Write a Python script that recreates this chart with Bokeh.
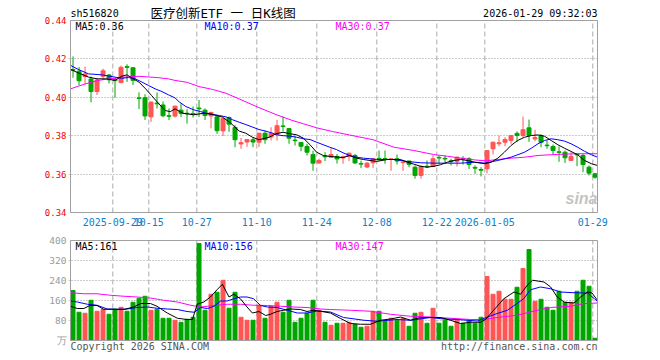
import pandas as pd
from bokeh.plotting import figure
from bokeh.layouts import column
from bokeh.models import (Range1d, LinearAxis, FixedTicker, Grid, PrintfTickFormatter,
                          Label, ColumnDataSource)
from bokeh.embed import file_html
from bokeh.resources import INLINE

# ---------------- data ----------------
holidays = ["2025-10-01", "2025-10-02", "2025-10-03", "2025-10-06", "2025-10-07",
            "2025-10-08", "2026-01-01", "2026-01-02"]
dates = [d.strftime("%Y-%m-%d") for d in pd.bdate_range("2025-09-18", "2026-01-29")
         if d.strftime("%Y-%m-%d") not in holidays]

opens = [
    .4145, .4136, .4108, .4095, .4030, .4109, .4116, .4092, .4077, .4160,
    .4154, .3997, .3998, .3898, .3970, .3960, .3904, .3902, .3933, .3917,
    .3916, .3944, .3933, .3903, .3898, .3825, .3895, .3843, .3757, .3767,
    .3779, .3766, .3813, .3793, .3808, .3851, .3837, .3777, .3765, .3744,
    .3702, .3658, .3694, .3688, .3692, .3684, .3692, .3697, .3655, .3637,
    .3659, .3682, .3681, .3676, .3680, .3660, .3668, .3636, .3593, .3641,
    .3640, .3687, .3682, .3669, .3667, .3682, .3680, .3635, .3624, .3628,
    .3732, .3758, .3766, .3775, .3812, .3801, .3841, .3783, .3801, .3751,
    .3744, .3716, .3714, .3671, .3704, .3697, .3636, .3602]
closes = [
    .4141, .4086, .4122, .4030, .4090, .4138, .4091, .4087, .4156, .4156,
    .4088, .3994, .3903, .3975, .3966, .3904, .3901, .3954, .3916, .3914,
    .3913, .3940, .3905, .3921, .3826, .3890, .3860, .3779, .3764, .3780,
    .3767, .3813, .3779, .3813, .3852, .3848, .3787, .3774, .3745, .3714,
    .3657, .3671, .3690, .3702, .3679, .3690, .3709, .3658, .3652, .3657,
    .3680, .3678, .3678, .3680, .3668, .3663, .3651, .3593, .3640, .3638,
    .3680, .3684, .3679, .3666, .3688, .3678, .3650, .3631, .3620, .3723,
    .3766, .3763, .3780, .3801, .3801, .3831, .3801, .3790, .3766, .3748,
    .3723, .3713, .3685, .3692, .3700, .3650, .3605, .3584]
highs = [
    .4213, .4158, .4160, .4108, .4100, .4149, .4121, .4100, .4165, .4172,
    .4156, .4026, .4016, .3977, .4025, .3978, .3942, .3956, .3968, .3938,
    .3952, .3986, .3942, .3925, .3903, .3892, .3900, .3855, .3788, .3781,
    .3792, .3815, .3827, .3844, .3882, .3900, .3840, .3801, .3766, .3758,
    .3722, .3680, .3714, .3735, .3705, .3697, .3711, .3705, .3670, .3662,
    .3681, .3723, .3723, .3682, .3702, .3664, .3670, .3645, .3645, .3671,
    .3697, .3697, .3697, .3680, .3692, .3693, .3688, .3645, .3636, .3724,
    .3768, .3801, .3792, .3802, .3823, .3900, .3884, .3831, .3809, .3775,
    .3754, .3744, .3723, .3714, .3709, .3705, .3645, .3605]
lows = [
    .4102, .4063, .4070, .3974, .4012, .4091, .4072, .3998, .4072, .4080,
    .4064, .3939, .3882, .3872, .3942, .3896, .3882, .3895, .3898, .3863,
    .3895, .3898, .3882, .3838, .3810, .3798, .3820, .3740, .3732, .3742,
    .3740, .3741, .3758, .3775, .3775, .3823, .3758, .3749, .3719, .3697,
    .3617, .3654, .3668, .3687, .3655, .3654, .3668, .3653, .3632, .3632,
    .3632, .3668, .3654, .3617, .3650, .3617, .3636, .3576, .3576, .3632,
    .3636, .3654, .3662, .3645, .3640, .3650, .3627, .3602, .3588, .3604,
    .3702, .3744, .3745, .3758, .3766, .3790, .3768, .3771, .3740, .3732,
    .3702, .3664, .3658, .3670, .3641, .3610, .3593, .3576]
volumes = [
    200, 113, 109, 161, 117, 124, 105, 125, 133, 117,
    153, 169, 177, 121, 125, 89, 89, 81, 73, 85,
    93, 388, 121, 185, 193, 241, 129, 193, 93, 81,
    81, 141, 89, 137, 153, 113, 161, 73, 89, 109,
    161, 121, 73, 61, 69, 69, 73, 65, 53, 57,
    117, 117, 77, 89, 81, 89, 57, 109, 113, 69,
    129, 69, 81, 57, 81, 69, 81, 69, 93, 256,
    185, 197, 165, 165, 213, 288, 364, 157, 165, 133,
    121, 197, 153, 153, 197, 241, 217, 9]

# moving-average lines (bar position, value)
ma5_at = [-0.4, 0.6, 2.6, 4.0, 5.6, 7.0, 8.1, 9.0, 9.8, 11.0, 12.1, 13.1, 14.3, 15.4, 16.2,
          17.0, 18.3, 20.1, 21.8, 22.9, 24.9, 26.3, 27.7, 28.8, 29.9, 31.0, 32.7, 33.8,
          35.0, 36.2, 37.25, 38.4, 39.5, 40.6, 41.7, 42.8, 45.0, 46.1, 47.25, 48.4, 50.6,
          52.4, 54.6, 55.7, 56.8, 57.9, 59.0, 60.2, 61.25, 62.4, 63.5, 64.6, 65.7, 66.9,
          68.0, 68.6, 69.7, 70.8, 71.9, 73.0, 74.1, 75.25, 76.4, 77.5, 78.6, 79.7, 80.8,
          81.9, 83.0, 84.1, 85.25, 86.4, 87.4]
ma5_val = [.4145, .4131, .4105, .4096, .4096, .4088, .4110, .4117, .4101, .4079, .4044,
           .4009, .3966, .3931, .3925, .3940, .3917, .3909, .3917, .3913, .3897, .3865,
           .3824, .3813, .3792, .3779, .3792, .3810, .3818, .3810, .3805, .3787, .3753,
           .3714, .3697, .3692, .3686, .3697, .3683, .3676, .3666, .3676, .3676, .3662,
           .3652, .3641, .3636, .3641, .3649, .3662, .3671, .3676, .3671, .3662, .3657,
           .3654, .3662, .3683, .3714, .3749, .3775, .3792, .3801, .3804, .3797, .3775,
           .3753, .3735, .3718, .3701, .3671, .3654, .3645]
ma10_at = [-0.4, 0.9, 2.6, 4.8, 7.0, 8.1, 9.25, 10.4, 11.5, 12.6, 13.7, 14.8, 15.9, 17.0,
           17.7, 18.8, 20.1, 21.2, 22.2, 23.3, 24.4, 25.5, 26.6, 27.7, 28.8, 29.9, 31.0,
           32.1, 33.25, 33.9, 35.0, 36.2, 37.25, 38.4, 39.5, 40.6, 41.7, 42.8, 43.9, 45.0,
           46.1, 47.25, 48.4, 49.5, 50.6, 53.5, 55.7, 57.9, 60.2, 62.4, 64.6, 66.9, 68.6,
           70.8, 73.0, 75.25, 76.4, 77.5, 78.6, 79.7, 80.8, 81.9, 83.0, 84.1, 85.25, 86.4,
           87.4]
ma10_val = [.4166, .4145, .4122, .4117, .4105, .4099, .4103, .4096, .4079, .4061, .4044,
            .4030, .4013, .3997, .3976, .3952, .3935, .3926, .3917, .3911, .3905, .3898,
            .3883, .3870, .3858, .3845, .3832, .3824, .3813, .3805, .3800, .3798, .3792,
            .3784, .3780, .3766, .3753, .3740, .3728, .3711, .3697, .3688, .3683, .3680,
            .3676, .3676, .3666, .3659, .3657, .3657, .3657, .3662, .3657, .3671, .3688,
            .3714, .3735, .3758, .3775, .3784, .3779, .3772, .3758, .3740, .3719, .3701,
            .3688]
ma30_at = [-0.4, 0.9, 2.6, 4.25, 5.9, 7.6, 9.25, 11.0, 12.6, 14.3, 15.9, 17.0, 19.0, 21.0,
           23.25, 25.5, 27.8, 30.7, 34.0, 36.5, 38.4, 40.6, 43.2, 46.5, 50.0, 53.5, 56.8,
           60.1, 62.4, 64.6, 66.9, 68.8, 70.8, 73.0, 75.25, 77.5, 79.7, 81.9, 84.1, 87.4]
ma30_val = [.4044, .4058, .4075, .4088, .4096, .4101, .4108, .4109, .4106, .4102, .4096,
            .4088, .4078, .4056, .4041, .4021, .3990, .3950, .3908, .3880, .3862, .3841,
            .3822, .3801, .3779, .3740, .3723, .3702, .3693, .3683, .3674, .3669, .3676,
            .3683, .3688, .3697, .3701, .3704, .3706, .3706]

vma5_at = [-0.4, 0.7, 1.8, 2.9, 4.0, 5.1, 6.8, 8.5, 10.1, 11.3, 12.9, 14.0, 15.7, 17.4, 19.0,
           19.9, 20.7, 21.8, 22.9, 24.0, 24.9, 26.0, 26.8, 27.9, 29.0, 29.9, 31.0, 32.1,
           32.9, 34.0, 35.1, 36.25, 37.9, 39.0, 40.1, 41.25, 42.9, 44.6, 46.25, 47.9, 49.6,
           51.25, 52.9, 54.6, 56.25, 57.9, 59.6, 61.25, 62.9, 64.6, 66.25, 67.9, 68.75,
           70.1, 71.8, 73.5, 74.6, 75.7, 76.6, 78.5, 79.6, 80.7, 81.9, 83.5, 84.6, 85.75,
           86.5, 87.4]
vma5_val = [137, 128, 128, 141, 140, 125, 125, 124, 134, 148, 148, 137, 110, 89, 84, 84,
            145, 154, 174, 203, 225, 174, 185, 167, 134, 110, 116, 100, 105, 116, 121, 126,
            124, 116, 121, 117, 110, 88, 68, 65, 65, 81, 86, 94, 81, 92, 92, 92, 81, 68,
            73, 73, 84, 121, 167, 194, 185, 221, 241, 234, 214, 174, 153, 150, 174, 194,
            190, 161]
vma10_at = [-0.4, 0.7, 2.4, 4.0, 5.7, 7.4, 9.0, 10.7, 12.4, 14.0, 15.7, 17.4, 19.0, 20.2,
            21.25, 22.4, 23.5, 24.6, 25.7, 26.8, 27.9, 29.0, 30.1, 31.25, 32.4, 34.0, 35.7,
            37.4, 39.0, 40.7, 42.9, 45.1, 48.5, 50.7, 54.0, 56.25, 59.6, 61.8, 64.0, 67.4,
            69.1, 70.7, 72.4, 74.0, 75.1, 76.25, 77.9, 79.6, 81.25, 83.5, 85.75, 86.9, 87.4]
vma10_val = [158, 154, 145, 141, 126, 125, 126, 132, 134, 129, 126, 124, 116, 113, 132, 128,
             137, 158, 158, 167, 174, 174, 167, 140, 134, 132, 121, 110, 110, 118, 114, 92,
             81, 77, 84, 81, 92, 86, 84, 78, 94, 108, 121, 148, 167, 203, 214, 207, 194,
             191, 190, 167, 157]
vma30_at = [-0.4, 1.8, 4.0, 6.25, 8.5, 10.7, 12.9, 15.1, 17.4, 19.6, 21.25, 23.5, 25.7,
            27.9, 30.1, 32.4, 34.6, 36.8, 39.0, 41.25, 42.9, 46.25, 49.6, 52.9, 56.25, 59.6,
            62.9, 66.25, 68.5, 70.7, 74.0, 77.4, 79.6, 82.9, 85.2, 87.4]
vma30_val = [191, 187, 187, 181, 177, 174, 170, 161, 154, 141, 134, 140, 145, 145, 141, 140,
             137, 134, 132, 126, 124, 121, 117, 105, 97, 94, 89, 84, 84, 92, 101, 121, 132,
             137, 148, 150]

price_ticks = [0.34, 0.36, 0.38, 0.40, 0.42, 0.44]
price_grid = [0.36, 0.38, 0.40, 0.42]
vol_ticks = [0, 80, 160, 240, 320, 400]
vol_grid = [80, 160, 240, 320]
tick_dates = ["2025-09-29", "2025-10-15", "2025-10-27", "2025-11-10", "2025-11-24",
              "2025-12-08", "2025-12-22", "2026-01-05", "2026-01-29"]
tick_labels = ["2025-09-29", "10-15", "10-27", "11-10", "11-24", "12-08", "12-22",
               "2026-01-05", "01-29"]

# ---------------- styling / geometry ----------------
RED = "#ff5555"
GREEN = "#00a600"
MONO = "DejaVu Sans Mono"
FRAME = "#a0a0a0"
GRIDC = "#aaaaaa"
X0 = -0.05          # data x at the panel's left border
OFF = 0.37          # bars sit just right of the date grid line
PXW = 6.0           # pixels per bar
PMIN, PMAX = price_ticks[0], price_ticks[-1]
VMIN, VMAX = vol_ticks[0], vol_ticks[-1]
FL, FR = 68, 599    # drawing-area edges (panel border is at 70 .. 597)


def fx(sx):
    return X0 + (sx - 70) / PXW


def fy1(sy):  # price panel: 0.44 at y=20, 0.34 at y=212
    return PMAX - (sy - 20) * (PMAX - PMIN) / 192.0


def fy2(sy):  # volume panel: 400 at y=240, 0 at y=340
    return (340 - sy) * (VMAX - VMIN) / 100.0


n = len(closes)
src = ColumnDataSource(dict(
    x=[i + OFF for i in range(n)],
    high=highs, low=lows,
    top=[max(o, c) for o, c in zip(opens, closes)],
    bottom=[min(o, c) for o, c in zip(opens, closes)],
    vol=volumes,
    color=[RED if c > o else GREEN for o, c in zip(opens, closes)],
))

tick_idx = [dates.index(d) for d in tick_dates]
xr = Range1d(fx(FL), fx(FR))


def base(height, y_range, top, bottom):
    p = figure(width=652, height=height, x_range=xr, y_range=y_range,
               x_axis_type=None, y_axis_type=None, output_backend="svg",
               toolbar_location=None, title=None)
    p.min_border = 0
    p.min_border_left = FL
    p.min_border_right = 652 - FR
    p.min_border_top = top
    p.min_border_bottom = bottom
    p.outline_line_color = None
    p.background_fill_color = "white"
    p.border_fill_color = "white"
    return p


def plain_axis(ax, color, size, standoff):
    ax.axis_line_color = None
    ax.major_tick_out = 0
    ax.major_tick_in = 0
    ax.minor_tick_out = 0
    ax.minor_tick_in = 0
    ax.major_label_standoff = standoff
    ax.major_label_text_color = color
    ax.major_label_text_font = MONO
    ax.major_label_text_font_size = size


def lab(p, x, y, text, color, size="10px", font=MONO, align="left", **kw):
    p.add_layout(Label(x=x, y=y, text=text, text_color=color, text_font=font,
                       text_font_size=size, text_align=align, text_baseline="middle", **kw))


# ---------------- price panel (canvas y 0..232) ----------------
p1 = base(232, Range1d(fy1(213), fy1(0)), 0, 19)
p1.add_layout(Grid(dimension=1, ticker=FixedTicker(ticks=price_grid),
                   grid_line_color="#999999", grid_line_dash="1 2"))
p1.segment(x0=tick_idx, y0=[PMIN] * len(tick_idx), x1=tick_idx, y1=[PMAX] * len(tick_idx),
           line_color=GRIDC, line_dash="5 3", line_width=1)

ya = LinearAxis(ticker=FixedTicker(ticks=price_ticks),
                formatter=PrintfTickFormatter(format="%.2f"))
plain_axis(ya, "#f00000", "9px", 2)
p1.add_layout(ya, "left")

xa = LinearAxis(ticker=FixedTicker(ticks=tick_idx),
                major_label_overrides={i: l for i, l in zip(tick_idx, tick_labels)})
plain_axis(xa, "#0a82cc", "10px", 4)
p1.add_layout(xa, "below")

p1.segment(x0="x", y0="low", x1="x", y1="high", line_color="color", line_width=1, source=src)
p1.vbar(x="x", width=4 / PXW, top="top", bottom="bottom", fill_color="color",
        line_color="color", line_width=1, source=src)
p1.line([a + OFF for a in ma30_at], ma30_val, line_color="#ff00ff", line_width=1)
p1.line([a + OFF for a in ma10_at], ma10_val, line_color="#0000ff", line_width=1)
p1.line([a + OFF for a in ma5_at], ma5_val, line_color="#000000", line_width=1)
p1.quad(left=[fx(70)], right=[fx(597)], bottom=[PMIN], top=[PMAX],
        fill_color=None, line_color=FRAME, line_width=1)

lab(p1, fx(70), fy1(13), "sh516820", "#000000")
lab(p1, fx(150), fy1(13), "医疗创新ETF 一 日K线图", "#000000", size="12.5px",
    font="DejaVu Sans Mono, Noto Sans CJK SC")
lab(p1, fx(597), fy1(13), "2026-01-29 09:32:03", "#000000", align="right")
lab(p1, fx(75), fy1(26), "MA5:%.2f" % ma5_val[-1], "#000000")
lab(p1, fx(204), fy1(26), "MA10:%.2f" % ma10_val[-1], "#0000ff")
lab(p1, fx(335), fy1(26), "MA30:%.2f" % ma30_val[-1], "#ff00ff")
lab(p1, fx(597), fy1(198), "sina", "#c4c4c4", size="16px", font="Liberation Sans",
    align="right", text_font_style="bold italic")

# ---------------- volume panel (canvas y 232..352) ----------------
p2 = base(120, Range1d(fy2(352), fy2(239)), 7, 0)
p2.add_layout(Grid(dimension=1, ticker=FixedTicker(ticks=vol_grid),
                   grid_line_color="#999999", grid_line_dash="1 2"))
p2.segment(x0=tick_idx, y0=[VMIN] * len(tick_idx), x1=tick_idx, y1=[VMAX] * len(tick_idx),
           line_color=GRIDC, line_dash="5 3", line_width=1)
va = LinearAxis(ticker=FixedTicker(ticks=vol_ticks), major_label_overrides={0: "万"})
plain_axis(va, "#9a9a9a", "9.5px", 2)
p2.add_layout(va, "left")

p2.vbar(x="x", width=4 / PXW, top="vol", bottom=VMIN, fill_color="color",
        line_color="color", line_width=1, source=src)
p2.line([a + OFF for a in vma30_at], vma30_val, line_color="#ff00ff", line_width=1)
p2.line([a + OFF for a in vma10_at], vma10_val, line_color="#0000ff", line_width=1)
p2.line([a + OFF for a in vma5_at], vma5_val, line_color="#000000", line_width=1)
p2.quad(left=[fx(70)], right=[fx(597)], bottom=[VMIN], top=[VMAX],
        fill_color=None, line_color=FRAME, line_width=1)

lab(p2, fx(75), fy2(245.7), "MA5:161", "#000000")
lab(p2, fx(204), fy2(245.7), "MA10:156", "#0000ff")
lab(p2, fx(335), fy2(245.7), "MA30:147", "#ff00ff")
lab(p2, fx(70), fy2(346), "Copyright 2026 SINA.COM", "#555555")
lab(p2, fx(597), fy2(346), "http://finance.sina.com.cn", "#555555", align="right")

layout = column(p1, p2, spacing=0)
open("out.html", "w").write(file_html(layout, INLINE))
